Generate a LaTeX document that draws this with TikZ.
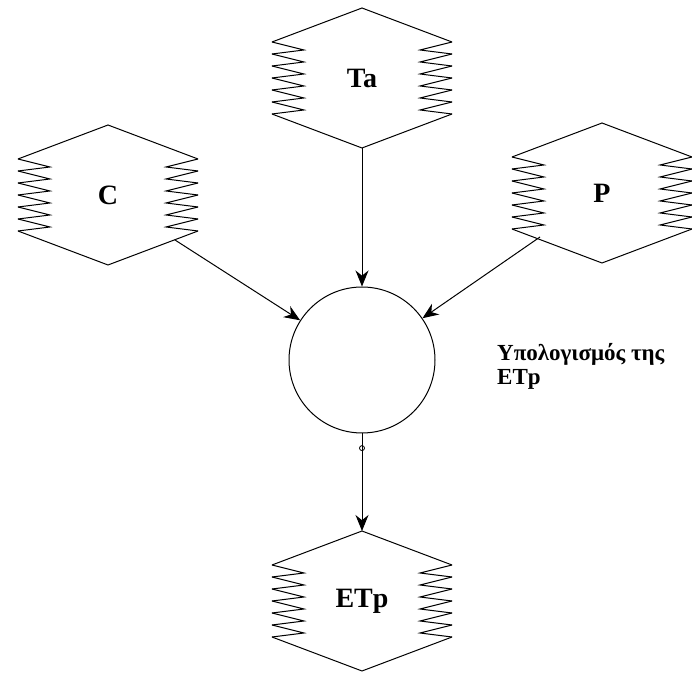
\documentclass[tikz,border=0pt]{standalone}
\usepackage{fontspec}
\setmainfont{Liberation Serif}
\usetikzlibrary{arrows.meta}

\tikzset{
  flow/.style={-{Stealth[length=8pt,width=6.5pt]},line width=0.5pt},
  varname/.style={font=\fontsize{14}{16}\selectfont\bfseries},
}

\begin{document}
\begin{tikzpicture}[x=0.5pt,y=-0.5pt,line width=0.5pt]
\useasboundingbox (0,0) rectangle (692,673);
% the four data stores
\foreach \x/\y/\name/\xtext in {362/78/ta/Ta,108/195/c/C,602/193/p/P,362/601/etp/ETp}
{
    \draw (\x-90,\y-36)--(\x,\y-70)--(\x+90,\y-36);
    \draw (\x-90,\y+36)--(\x,\y+70)--(\x+90,\y+36);
    \foreach \k in {0,...,5}
    {
        \draw (\x-90,\y-36+12*\k)--(\x-58,\y-28+12*\k)--(\x-90,\y-24+12*\k);
        \draw (\x+90,\y-36+12*\k)--(\x+58,\y-28+12*\k)--(\x+90,\y-24+12*\k);
    }
    \coordinate (\name-top) at (\x,\y-70);
    \coordinate (\name-bot) at (\x,\y+70);
    \coordinate (\name-br) at (\x+67,\y+45);
    \coordinate (\name-bl) at (\x-62,\y+44);
    \node[varname] (\name) at (\x,\y) {\xtext};
}
% process
\node[draw,circle,inner sep=0pt,minimum size=73pt] (calc) at (362,360) {};
\node[right,align=left,font=\fontsize{11.5}{12}\selectfont\bfseries] (calclbl) at (490,366) {Υπολογισμός της\\ETp};

\draw[flow] (ta-bot)--(calc);
\draw[flow] (c-br)--(calc);
\draw[flow] (p-bl)--(calc);
\draw[flow] (calc.south)--node[pos=0.15,circle,draw,inner sep=0pt,minimum size=2.5pt,line width=0.4pt] (mark) {} (etp-top);

\end{tikzpicture}
\end{document}
